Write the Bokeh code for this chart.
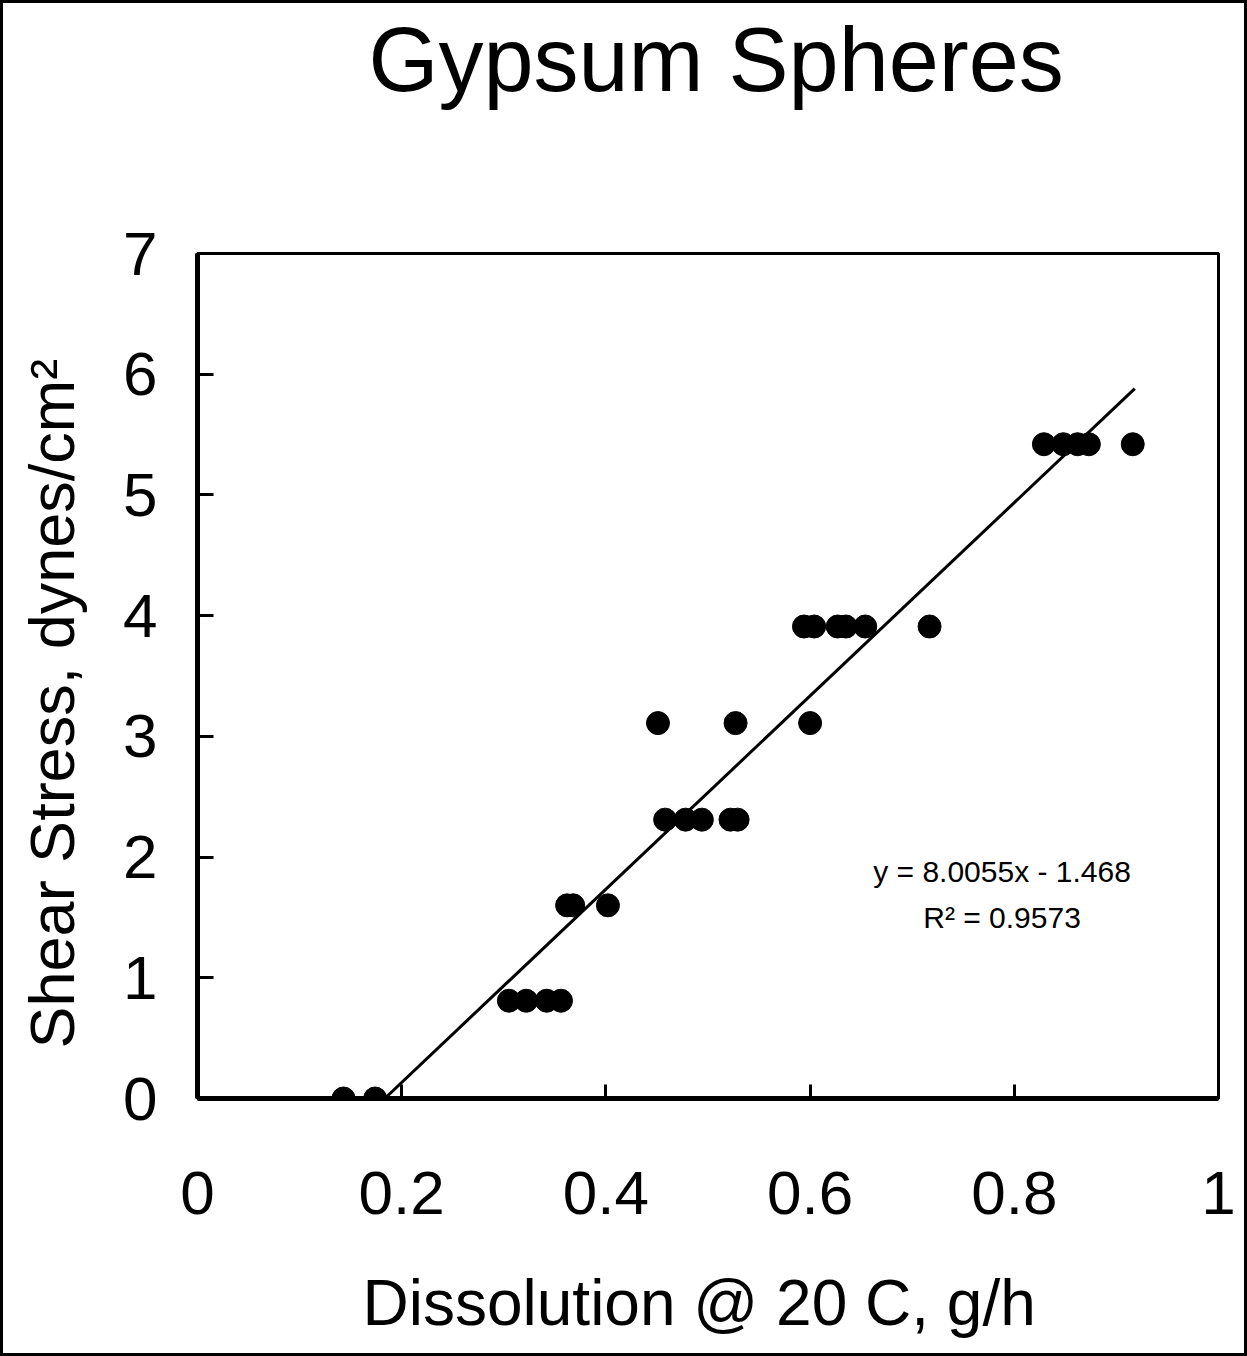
from bokeh.plotting import figure
from bokeh.models import Range1d, Label, FixedTicker, Title
from bokeh.embed import file_html
from bokeh.resources import INLINE

# ---- data ----
dissolution = [0.143, 0.174,
               0.305, 0.322, 0.342, 0.356,
               0.362, 0.368, 0.402,
               0.458, 0.478, 0.494, 0.522, 0.529,
               0.451, 0.527, 0.600,
               0.594, 0.604, 0.627, 0.635, 0.654, 0.717,
               0.829, 0.848, 0.862, 0.873, 0.916]
shear_stress = [0.0, 0.0,
                0.81, 0.81, 0.81, 0.81,
                1.60, 1.60, 1.60,
                2.31, 2.31, 2.31, 2.31, 2.31,
                3.11, 3.11, 3.11,
                3.91, 3.91, 3.91, 3.91, 3.91, 3.91,
                5.42, 5.42, 5.42, 5.42, 5.42]
fit_slope = 8.0055
fit_intercept = -1.468
fit_r2 = 0.9573
fit_x_end = 0.918

x_ticks = [0, 0.2, 0.4, 0.6, 0.8, 1.0]
x_tick_labels = ["0", "0.2", "0.4", "0.6", "0.8", "1"]
y_ticks = [0, 1, 2, 3, 4, 5, 6, 7]
y_tick_labels = ["0", "1", "2", "3", "4", "5", "6", "7"]

title_text = "Gypsum Spheres"
x_label = "Dissolution @ 20 C, g/h"
y_label = "Shear Stress, dynes/cm\u00b2"
eq_text = "y = 8.0055x - 1.468"
r2_text = "R\u00b2 = 0.9573"

FONT = "Liberation Sans"

p = figure(frame_width=1021, frame_height=845, output_backend="svg", toolbar_location=None,
           title_location=None,
           x_range=Range1d(0, 1), y_range=Range1d(0, 7),
           min_border_left=0, min_border_right=26,
           min_border_top=0, min_border_bottom=255)
p.styles = {"border": "3px solid black"}
p.background_fill_color = "white"
p.border_fill_color = "white"
p.outline_line_color = "black"
p.outline_line_width = 3
p.xgrid.visible = False
p.ygrid.visible = False

for ax, ticks, labels in ((p.xaxis[0], x_ticks, x_tick_labels), (p.yaxis[0], y_ticks, y_tick_labels)):
    ax.ticker = FixedTicker(ticks=ticks)
    ax.major_label_overrides = {t: l for t, l in zip(ticks, labels)}
    ax.minor_tick_line_color = None
    ax.major_tick_out = 0
    ax.major_tick_line_width = 3
    ax.major_tick_line_color = "black"
    ax.axis_line_width = 5
    ax.axis_line_color = "black"
    ax.major_label_text_font = FONT
    ax.major_label_text_font_size = "62px"
    ax.major_label_text_color = "black"

p.xaxis.major_tick_in = 14
p.yaxis.major_tick_in = 16
p.xaxis.major_label_standoff = 73
p.yaxis.major_label_standoff = 40


def spacer(gap):
    return Title(text=" ", text_font=FONT, text_font_size="10px", standoff=gap)


# top: spacer next to frame, then title
p.add_layout(spacer(127), "above")
p.add_layout(Title(text=title_text, align="left", offset=171, standoff=8,
                   text_font=FONT, text_font_size="90px", text_font_style="normal",
                   text_color="black"), "above")
# left: axis, spacer, y label
p.add_layout(spacer(10), "left")
p.add_layout(Title(text=y_label, align="left", offset=50, standoff=22,
                   text_font=FONT, text_font_size="63px", text_font_style="normal",
                   text_color="black"), "left")
# bottom: axis, spacer, x label
p.add_layout(spacer(35), "below")
p.add_layout(Title(text=x_label, align="left", offset=165, standoff=0,
                   text_font=FONT, text_font_size="64px", text_font_style="normal",
                   text_color="black"), "below")

# regression line
fit_x_start = -fit_intercept / fit_slope
fit_x = [fit_x_start, fit_x_end]
fit_y = [fit_slope * v + fit_intercept for v in fit_x]
p.line(fit_x, fit_y, line_color="black", line_width=3)

# data points
p.scatter(dissolution, shear_stress, size=23, fill_color="black", line_color="black")

# regression annotation
p.add_layout(Label(x=0.788, y=1.881, text=eq_text, text_font=FONT, text_font_size="30px",
                   text_align="center", text_baseline="middle", text_color="black"))
p.add_layout(Label(x=0.788, y=1.50, text=r2_text, text_font=FONT, text_font_size="30px",
                   text_align="center", text_baseline="middle", text_color="black"))

open("out.html", "w").write(file_html(p, INLINE))
